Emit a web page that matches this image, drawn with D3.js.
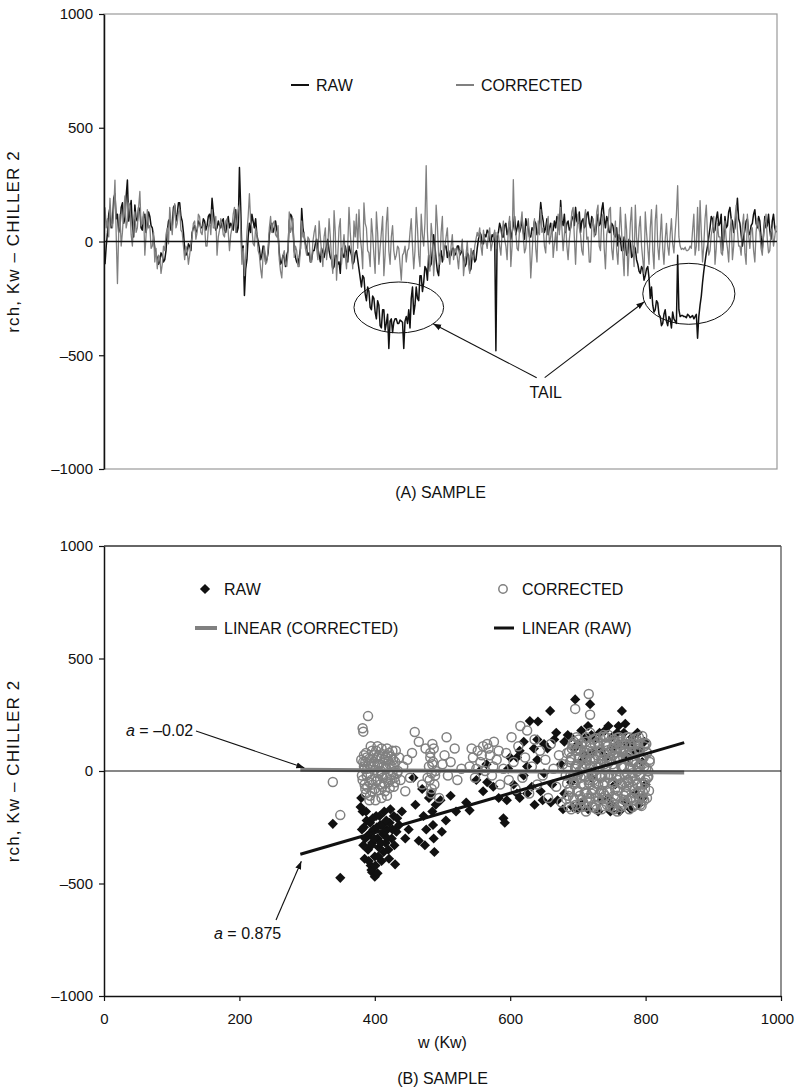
<!DOCTYPE html>
<html>
<head>
<meta charset="utf-8">
<script src="https://cdn.jsdelivr.net/npm/d3@7"></script>
<style>
  html, body { margin: 0; padding: 0; background: #fff; }
  svg text { font-family: "Liberation Sans", Arial, sans-serif; fill: #111; }
</style>
</head>
<body>
<svg id="chart" width="795" height="1089"></svg>
<script>
// ---- (A) residual per sample, kW ----
const rawSeries = [
  -100, -20, 40, 120, 150, 60, 80, 190, 210, 100, 120, 40, 60, 150, 170, 80, 100, 200, 270, 90,
  130, 180, 70, 20, 160, 100, 90, 150, 140, 60, 50, 110, 120, 40, 80, 130, 110, 70,
  60, 20, -30, -60, -70, -100, -90, -50, -60, -90, -80, -40,
  40, 90, 100, 50, 70, 150, 160, 90, 120, 170, 170, 110, 90, 40,
  -30, -60, -50, -10, -20, -40,
  40, 60, 70, 40, 50, 90, 80, 60, 60, 100, 90, 50, 70, 110, 120, 80, 190, 130,
  80, 50, 60, 90, 70, 60, 90, 100, 50, 40, 80, 110, 60, 80, 70, 50, 100, 140, 40, 60, 325, 150,
  -60, -20, -237, -120, -80, 20, 80, 40, 120, 90, 60, 100, 30, 0,
  -30, -80, -60, -20, -40, -90, -80, -50,
  30, 70, 80, 40, 60, 90, 50, 30,
  -50, -100, -90, -60, -70, -110, -60, -40,
  90, 120, 110, 60,
  -40, -70, -90, -100, -70, -30, 145, 60,
  20, -10, -30, -60, -50, -90, -80, -40, -40, -10, 10, -30, -60, -90, -30, -50, -70, -40, -20, 10,
  -40, -70, -80, -120, -110, -60, -60, -100, -90, -140, -30, -60, -70, -20, -50, -90, -20, -40, -60, -100, -90, -50, -40, -80,
  -120, -160, -200, -150, -160, -230, -260, -200, -220, -290, -300, -240,
  -250, -310, -340, -260, -280, -370, -380, -300, -300, -390, -360, -320, -470, -350, -340, -400,
  -355, -340, -340, -360, -360, -345, -350, -355, -470, -350, -330, -360,
  -300, -380, -250, -200, -320, -280, -200, -250, -260, -150, -150, -220, -180, -110, -120, -170,
  -60, -110, -100, -40, 30, -20, -80, -130, -150, -60, -40, -90, -60, -20, -20, -70,
  -40, -70, -60, -30, -30, -60, -50, -20, -20, -60, -50, -30,
  -70, -110, -100, -50, -60, -130, -120, -60, -40, -90, -80, -30,
  10, 40, 30, -10, -10, 30, 20, 50, 40, 0, 0, 30, 20, 40,
  -480, 20,
  40, 80, 60, 20, 20, 70, 80, 30, 50, 90, 10, 40, 70, 110, 30, 60, 90, 40, 60, 100,
  40, 10, 100, 70, 70, 20, 20, 60, 50, 90, 80, 30, 40, 90, 171, 120, 90, 40, 60, 100, 30, 60, 80, 40, 50, 90,
  60, 110, 100, 50, 180, 90, 70, 120, 40, 80, 90, 50,
  60, 100, 110, 70, 150, 90, 80, 130, 40, 90, 100, 60, 70, 120, 130, 80, 60, 110, 90, 50,
  30, 80, 120, 70, 80, 140, 170, 100, 60, 110, 90, 40, 40, 80, 70, 30, 20, 60,
  -20, 30, 10, -40, -40, 20, -10, -60, -50, 10, 0, -70, -60, -20, -30, -80,
  -100, -130, -140, -110, -120, -170, -150, -120, -110, -160,
  -250, -200, -280, -310, -300, -260, -270, -320,
  -330, -370, -360, -320, -300, -350, -370, -330, -340, -380, -310, -340, -350, -360,
  -60, -300,
  -330, -325, -325, -330, -330, -335, -320, -325, -335, -330, -325, -340, -330, -320,
  -425, -330,
  -280, -240, -180, -130, -90, -50, -20, 20,
  60, 110, 100, 40, 50, 100, 130, 70, 80, 120, -40, 10, 110, 60, 70, 130, 150, 100, 90, 40,
  60, 110, 190, 100, 80, 30, -20, 20, 50, 90, 100, 40, 30, 70, 80, 120, 140, 80, 60, 110,
  90, 20, -30, 30, 110, 60, 70, 120, 50, 10, 90, 120, 60, 40
];
const correctedSeries = [
  150, 60, 100, 20, 190, 80, 60, 140, 270, 30, -185, 40, 120, -20, 40, 130, 200, 60, 90, 170,
  160, 30, -20, 90, 130, 40, 60, 150, 220, 70, 80, 130, -60, 30, 140, 60, 70, -30,
  -20, 40, -90, -30, -120, -60, -70, -140, -100, -20, -40, 30,
  60, -10, 150, 90, 30, 120, 166, 60, 80, 130, 140, 50, 40, -20,
  -80, -20, -40, -100, -60, -10,
  20, 80, 90, 10, 40, 120, 110, 40, 30, 80, 70, -20, -20, 60, 90, 30, 140, 60,
  60, 110, -60, 20, 50, 100, 80, 30, 20, 90, 100, 40, -40, 30, 60, 120, 150, 40, 90, 140, 160, 60,
  -100, -30, -150, -70, 40, 110, 210, 90, 60, -10, -20, 60, 30, -40,
  -60, -120, -160, -60, -20, -100, -90, -30,
  60, 110, 40, 80, 90, 30, 20, 70,
  -80, -130, -160, -60, -40, -100, -110, -50,
  130, 40, 60, 100,
  -70, -20, -40, -110, -110, -30, 90, 20,
  40, -30, -60, 20, 10, -90, -90, 0, 40, 70, -30, -80, 90, 20, -50, -110, 20, 60, -80, -20,
  100, 20, -80, -140, 136, 40, -170, -60, 60, 100, -100, -30, 30, -60, -120, -20, 150, 40, -40, -120, 90, 20, 120, -30,
  140, 20, -30, -120, 170, 80, 60, -40, -50, -110, 100, 30,
  -60, -140, 130, 40, -100, -30, 40, 110, -150, -60, 80, 150, -40, -100, 20, 70,
  -40, -80, -60, -20, -30, -100, -170, -60, -50, -20, -90, -40,
  -30, 40, 100, -20, -120, -40, 150, 60, -60, -110, 120, 30, -20, 80, 333, 40,
  -60, -130, 80, 20, -150, -60, 160, 70, -60, -100, 40, 110, -80, -20, 20, 60,
  -60, -100, -20, 30, -80, -40, -30, -70, -120, -40, -40, 10,
  -150, -90, -60, 0, -100, -140, -30, -60, -80, -20, 10, 40,
  20, 60, -20, -60, 50, 10, 0, -30, 30, 60, -40, -10, 10, 50,
  -30, 40,
  30, -20, -60, 40, 90, 10, -20, -80, 60, 110, -110, -20, 272, 60, 40, -30, -40, 50, 80, 130,
  20, -50, -30, 40, 100, 10, -160, -60, 50, 100, -30, -90, 90, 30, 140, 40, 60, -20, -50, 70, 110, -10, 20, 80, -70, -10,
  40, -40, 120, 30, 150, 60, -40, 30, 90, -20, -80, 10,
  60, 130, 150, 20, -100, 40, 120, 60, 30, -40, -60, 100, 140, 10, 20, -90, -90, 60, 100, 20,
  40, 130, 160, -20, -40, 90, 120, -30, -120, 30, 60, 140, 150, -30, -80, 20, 90, -40,
  -100, 30, 150, 40, -60, -150, 120, 50, -150, -40, 80, 150, -20, -110, 160, 20,
  -50, 60, 110, -20, -80, -140, 130, 40, -30, -100,
  60, 140, -40, -120, 90, 160, -20, -80,
  20, 120, -30, -100, 10, 80, -20, -60, 30, 100, -10, -50, 40, 120,
  245, 20,
  -20, -35, -30, -35, -25, -40, -40, -35, -20, -30, 50, 120, -60, -20,
  150, -40,
  180, 40, -90, -20, 100, 160, 30, -60,
  -40, 30, 60, 110, -100, -30, 80, 20, 20, -50, -60, 40, 90, 10, -30, -90, 40, 100, -80, -20,
  100, 160, 50, -20, -20, -60, 70, 120, -50, -100, 120, 30, -30, 50, 60, -40, -90, 40, 100, 60,
  40, -30, -60, 30, 80, 120, 10, -50, -40, 40, 60, -20, 20, 70
];
// circled "tail" stretches: sample range and residual range
const tailRegions = [
  { from: 200, to: 272, low: -402, high: -178, arrowAngle: 40 },
  { from: 432, to: 506, low: -364, high: -96, arrowAngle: 165 }
];
const tailLabel = { sample: 354, value: -660, text: "TAIL" };

// ---- (B) residual versus chiller power ----
const rawPoints = [
  [338,-235],[349,-475],[380,-120],[382,-180],[384,-250],[386,-300],[388,-220],[390,-350],
  [392,-280],[394,-420],[395,-440],[396,-320],[398,-260],[400,-380],[400,-470],[402,-200],
  [404,-300],[406,-340],[408,-240],[410,-400],[412,-280],[414,-180],[416,-320],[418,-260],
  [420,-350],[422,-230],[425,-300],[428,-200],[430,-415],[432,-270],[436,-240],[440,-180],
  [379,-160],[381,-260],[383,-330],[385,-390],[387,-180],[389,-290],[391,-400],[393,-230],
  [395,-330],[397,-210],[399,-300],[401,-420],[403,-250],[405,-380],[407,-200],[409,-320],
  [411,-240],[413,-360],[415,-270],[417,-220],[419,-300],[421,-390],[423,-170],[426,-260],
  [429,-330],[433,-210],[396,-450],[404,-455],
  [445,-300],[450,-260],[457,-30],[460,-150],[465,-310],[470,-80],[472,-200],[474,-330],
  [476,-260],[480,-120],[483,-100],[485,-180],[486,-240],[487,-300],[488,-360],[490,-150],
  [497,-130],[499,-270],[505,-220],[512,-110],[520,-180],[535,-140],[540,-175],[550,-40],
  [555,0],[560,-90],[565,30],[566,-50],[575,-70],[583,-120],[590,-210],[592,-230],
  [595,-130],[597,10],[600,60],[605,-60],[610,-100],[614,90],[614,-120],[620,-20],
  [625,20],[629,222],[632,-70],[636,-150],[640,50],[641,220],[645,-90],[650,-10],
  [655,100],[659,267],[662,-60],[665,140],[670,-130],[675,30],[680,-100],[685,160],
  [690,-50],[696,318],[700,120],[705,-140],[710,70],[715,200],[718,297],[720,-30],
  [725,140],[730,-180],[735,90],[740,180],[745,-120],[750,150],[755,-60],[760,120],
  [762,-178],[765,267],[768,170],[770,-140],[775,60],[780,130],[785,-100],[790,-150],
  [792,90],[795,40],[800,-60],[705,180],[745,200],[690,150],[760,200],[680,130],
  [700,-170],[720,160],[735,-130],[750,-150],[780,150],[640,140],[660,-140],[625,-100],
  [650,120],[770,210],
  [695,100],[705,40],[712,150],[722,80],[732,170],[742,60],[752,100],[758,170],
  [772,120],[782,90],[788,170],[798,130],[692,-160],[715,-170],[748,-180],[778,-170],
  [795,-120],[610,60],[620,130],[635,100],[648,-130],[668,170],[678,-170]
];
const correctedPoints = [
  [338,-49],[349,-196],[382,190],[383,175],[390,244],[384,70],[386,40],[388,-20],
  [385,-60],[387,-100],[389,10],[392,55],[395,-40],[396,90],[398,20],[400,-80],
  [401,-130],[403,60],[405,-10],[407,30],[408,-60],[410,100],[412,-30],[414,50],
  [415,-90],[417,10],[419,70],[420,-50],[422,30],[424,-20],[426,90],[428,-70],
  [430,40],[433,-10],[436,60],[438,-40],[442,20],[445,-90],[448,50],[452,-30],[455,80],
  [381,-20],[383,40],[385,10],[387,80],[389,-70],[391,30],[393,-110],[394,110],
  [397,-60],[399,40],[402,90],[404,-40],[406,70],[409,0],[411,-70],[413,20],
  [416,60],[418,-110],[421,80],[423,-40],[425,20],[427,50],[429,-30],[431,90],[434,0],
  [380,50],[382,-40],[384,20],[386,-80],[388,60],[390,-10],[392,-50],[394,25],
  [396,-90],[398,70],[400,5],[402,-45],[404,30],[406,-85],[408,55],[410,-15],
  [412,75],[414,-55],[416,15],[418,-30],[420,45],[422,-75],[424,65],[426,-5],
  [428,25],[430,-50],[418,100],[404,110],[392,-130],[410,-120],
  [459,173],[465,130],[470,-60],[475,100],[478,-30],[480,20],[482,60],[483,-100],
  [484,-10],[485,120],[486,40],[488,-60],[490,0],[495,-120],[500,30],[503,70],
  [506,150],[508,-20],[512,40],[518,100],[522,-40],[528,10],
  [481,-40],[482,80],[484,-80],[485,30],[487,100],[489,-20],
  [540,20],[545,60],[548,-30],[552,90],[556,40],[560,110],[563,0],[566,120],
  [570,70],[573,-20],[576,130],[580,50],[585,-60],[590,10],[594,80],[598,-40],
  [543,100],[550,10],[558,70],[568,100],[575,20],[583,90],
  [602,150],[605,40],[608,-80],[612,110],[615,200],[618,-30],[622,60],[625,180],
  [628,-100],[632,20],[636,140],[640,-60],[644,90],[648,-20],[652,50],[656,-120],
  [660,120],[664,10],[668,-70],[672,70],[676,-140],[678,30],
  [682,-20],[684,80],[686,-110],[688,40],[690,-170],[692,120],[694,-60],[696,10],
  [698,150],[700,-90],[702,60],[704,-30],[706,110],[708,-140],[710,20],[712,-180],
  [714,90],[716,342],[716,-40],[718,50],[720,-100],[722,140],[724,0],[726,-150],
  [728,70],[730,-60],[732,110],[734,30],[736,-120],[738,80],[740,-20],[742,150],
  [744,-90],[746,40],[748,-160],[750,100],[752,-50],[754,10],[756,130],[758,-110],
  [760,60],[762,-30],[764,90],[766,-140],[768,20],[770,120],[772,-70],[774,50],
  [776,-170],[778,80],[780,-10],[782,140],[784,-100],[786,30],[788,-60],[790,100],
  [792,-20],[794,60],[796,-120],[798,20],[800,-40],[802,80],[804,0],[700,100],
  [705,-160],[712,30],[718,-60],[725,120],[732,-100],[738,160],[745,-30],[752,70],
  [758,-180],[765,140],[772,-10],[778,-120],[785,90],[792,-150],[798,110],[690,60],
  [695,-130],[735,-170],[755,-80],[775,150],[785,-40],[710,70],[720,-10],[730,20],
  [740,-110],[750,-140],[760,130],[770,-100],[780,40],[790,-90],[715,-140],[745,160],
  [765,-60],[790,150],[696,276],[795,156],[718,250],
  [688,-80],[691,100],[693,-20],[697,-150],[699,30],[701,140],[703,-110],[707,50],
  [709,-60],[711,130],[713,-100],[717,10],[719,110],[721,-160],[723,60],[727,-20],
  [729,130],[731,-130],[733,70],[737,-60],[739,30],[741,120],[743,-150],[747,80],
  [749,-20],[751,30],[753,-110],[757,100],[759,-40],[761,150],[763,-160],[767,60],
  [769,-50],[771,90],[773,-130],[777,10],[779,110],[781,-70],[783,40],[787,-150],
  [789,130],[791,20],[793,-110],[797,60],[799,-80],[801,120],[803,-30],[694,130],
  [704,90],[714,-120],[724,-80],[734,-30],[744,110],[754,-170],[764,20],[774,-40],
  [784,120],[794,-60],[703,0],[713,60],[723,-40],[733,150],[743,40],[753,140],
  [763,100],[773,70],[783,-130],[793,30],[708,-20],[728,-170],[748,50],[768,-110],
  [788,0],[698,-40],[718,170],[738,-100],[758,60],[778,-30],[798,-130],[806,40],
  [686,-160],[699,-165],[711,-158],[724,-162],[737,-155],[752,-165],[766,-150],[781,-160],[794,-155],
  [683,-125],[693,-120],[706,-128],[717,-122],[729,-118],[742,-126],[755,-120],[768,-128],
  [779,-118],[791,-125],[802,-120],
  [688,-92],[699,-88],[710,-95],[722,-86],[734,-90],[747,-94],[759,-88],[771,-92],
  [783,-86],[796,-94],[805,-88],
  [684,-55],[694,-50],[705,-58],[716,-52],[727,-56],[739,-50],[751,-58],[763,-54],
  [775,-50],[787,-58],[799,-52],
  [689,-20],[700,-16],[711,-24],[722,-18],[733,-22],[746,-14],[757,-24],[769,-18],
  [781,-22],[792,-16],[804,-24],
  [685,15],[696,20],[707,12],[719,18],[730,14],[742,22],[754,12],[765,18],
  [777,14],[789,20],[801,12],
  [690,50],[701,55],[713,46],[725,52],[736,48],[748,56],[760,46],[771,52],
  [783,48],[795,54],[806,50],
  [687,85],[698,90],[709,82],[721,88],[732,84],[744,92],[756,82],[767,88],
  [779,84],[791,90],[802,82],
  [694,120],[706,124],[718,116],[730,122],[741,118],[753,126],[765,116],[777,122],
  [789,118],[800,124],
  [712,150],[726,146],[739,152],[758,148],[772,150],[786,146]
];
// least-squares lines over the plotted power range
const trendRange = [290, 857];
const rawSlope = 0.875, rawIntercept = -624;
const correctedSlope = -0.02, correctedIntercept = 11;

const yTickValues = [-1000, -500, 0, 500, 1000];
const xTickValues = [0, 200, 400, 600, 800, 1000];
const yAxisTitle = "rch, Kw \u2013 CHILLER 2";
const xAxisTitle = "w (Kw)";

// ------------------------------------------------------------------
const BLACK = "#111", GREY = "#808080";
const fmt = d => d < 0 ? "\u2013" + Math.abs(d) : String(d);
const svg = d3.select("#chart");

const defs = svg.append("defs");
defs.append("marker")
  .attr("id", "arrow").attr("viewBox", "0 0 10 10")
  .attr("refX", 10).attr("refY", 5)
  .attr("markerWidth", 8).attr("markerHeight", 8)
  .attr("markerUnits", "userSpaceOnUse").attr("orient", "auto")
  .append("path").attr("d", "M0,1.2L10,5L0,8.8Z").attr("fill", BLACK);

function styleAxis(g) {
  g.selectAll(".domain").attr("stroke", BLACK).attr("stroke-width", 1.5);
  g.selectAll(".tick line").attr("stroke", BLACK).attr("stroke-width", 1.2);
  g.selectAll(".tick text").attr("font-size", 15).attr("fill", BLACK)
    .attr("font-family", '"Liberation Sans", Arial, sans-serif');
}

function yTitle(cy) {
  svg.append("text")
    .attr("transform", `translate(19,${cy}) rotate(-90)`)
    .attr("text-anchor", "middle").attr("font-size", 17)
    .attr("letter-spacing", 1.1)
    .text(yAxisTitle);
}

// ================= (A) =================
const A = { left: 104, right: 777, top: 14, bottom: 469 };
const xA = d3.scaleLinear().domain([0, rawSeries.length - 1]).range([A.left + 1, A.right - 1]);
const xA2 = d3.scaleLinear().domain([0, correctedSeries.length - 1]).range(xA.range());
const yA = d3.scaleLinear().domain([-1000, 1000]).range([A.bottom, A.top]);

svg.append("rect")
  .attr("x", A.left).attr("y", A.top)
  .attr("width", A.right - A.left).attr("height", A.bottom - A.top)
  .attr("fill", "none").attr("stroke", "#9a9a9a").attr("stroke-width", 1.2);

svg.append("path").datum(rawSeries)
  .attr("d", d3.line().x((d, i) => xA(i)).y(d => yA(d)))
  .attr("fill", "none").attr("stroke", BLACK).attr("stroke-width", 1.5)
  .attr("stroke-linejoin", "round");
svg.append("path").datum(correctedSeries)
  .attr("d", d3.line().x((d, i) => xA2(i)).y(d => yA(d)))
  .attr("fill", "none").attr("stroke", GREY).attr("stroke-width", 1.3)
  .attr("stroke-linejoin", "round");

svg.append("line")
  .attr("x1", A.left).attr("x2", A.right)
  .attr("y1", yA(0)).attr("y2", yA(0))
  .attr("stroke", BLACK).attr("stroke-width", 1.6);

svg.append("g").attr("transform", `translate(${A.left},0)`)
  .call(d3.axisLeft(yA).tickValues(yTickValues).tickFormat(fmt).tickSize(5).tickSizeOuter(0).tickPadding(6))
  .call(styleAxis);

yTitle((A.top + A.bottom) / 2);

// legend
[
  { label: "RAW", color: BLACK, x: 291 },
  { label: "CORRECTED", color: GREY, x: 456 }
].forEach(e => {
  svg.append("line").attr("x1", e.x).attr("x2", e.x + 18).attr("y1", 85).attr("y2", 85)
    .attr("stroke", e.color).attr("stroke-width", 2);
  svg.append("text").attr("x", e.x + 25).attr("y", 91).attr("font-size", 16).text(e.label);
});

// tail ellipses and arrows
const tx = xA(tailLabel.sample), ty = yA(tailLabel.value);
svg.append("text").attr("x", tx).attr("y", ty + 6)
  .attr("text-anchor", "middle").attr("font-size", 16).text(tailLabel.text);
tailRegions.forEach((r, k) => {
  const cx = (xA(r.from) + xA(r.to)) / 2, cy = (yA(r.low) + yA(r.high)) / 2;
  const rx = (xA(r.to) - xA(r.from)) / 2, ry = (yA(r.low) - yA(r.high)) / 2;
  svg.append("ellipse").attr("cx", cx).attr("cy", cy).attr("rx", rx).attr("ry", ry)
    .attr("fill", "none").attr("stroke", BLACK).attr("stroke-width", 1);
  const a = r.arrowAngle * Math.PI / 180;
  svg.append("line")
    .attr("x1", tx + (k === 0 ? -9 : -1)).attr("y1", ty - 14)
    .attr("x2", cx + rx * Math.cos(a)).attr("y2", cy + ry * Math.sin(a))
    .attr("stroke", BLACK).attr("stroke-width", 1.1)
    .attr("marker-end", "url(#arrow)");
});

svg.append("text").attr("x", (A.left + A.right) / 2).attr("y", 498)
  .attr("text-anchor", "middle").attr("font-size", 16).text("(A) SAMPLE");

// ================= (B) =================
const B = { left: 104, right: 781, top: 546, bottom: 996 };
const xB = d3.scaleLinear().domain([0, 1000]).range([B.left, B.right]);
const yB = d3.scaleLinear().domain([-1000, 1000]).range([B.bottom, B.top]);

svg.append("line").attr("x1", B.left).attr("x2", B.right).attr("y1", B.top).attr("y2", B.top)
  .attr("stroke", "#333").attr("stroke-width", 1.3);
svg.append("line").attr("x1", B.right).attr("x2", B.right).attr("y1", B.top).attr("y2", B.bottom)
  .attr("stroke", "#555").attr("stroke-width", 1.3);

const diamond = d3.symbol(d3.symbolSquare, 52)();
svg.append("g").selectAll("path").data(rawPoints).join("path")
  .attr("d", diamond)
  .attr("transform", d => `translate(${xB(d[0])},${yB(d[1])}) rotate(45)`)
  .attr("fill", BLACK);

svg.append("g").selectAll("circle").data(correctedPoints).join("circle")
  .attr("cx", d => xB(d[0])).attr("cy", d => yB(d[1])).attr("r", 4.5)
  .attr("fill", "none").attr("stroke", GREY).attr("stroke-width", 1.5);

const trend = (m, c) => trendRange.map(w => [xB(w), yB(m * w + c)]);
svg.append("path").attr("d", d3.line()(trend(correctedSlope, correctedIntercept)))
  .attr("stroke", GREY).attr("stroke-width", 4).attr("fill", "none");
svg.append("path").attr("d", d3.line()(trend(rawSlope, rawIntercept)))
  .attr("stroke", BLACK).attr("stroke-width", 3).attr("fill", "none");

svg.append("line").attr("x1", B.left).attr("x2", B.right).attr("y1", yB(0)).attr("y2", yB(0))
  .attr("stroke", BLACK).attr("stroke-width", 1.2);

svg.append("g").attr("transform", `translate(${B.left},0)`)
  .call(d3.axisLeft(yB).tickValues(yTickValues).tickFormat(fmt).tickSize(5).tickSizeOuter(0).tickPadding(6))
  .call(styleAxis);
const xAxisG = svg.append("g").attr("transform", `translate(0,${B.bottom})`)
  .call(d3.axisBottom(xB).tickValues(xTickValues).tickFormat(fmt).tickSize(5).tickSizeOuter(0).tickPadding(12))
  .call(styleAxis);
// keep the last tick label inside the page
xAxisG.selectAll(".tick text").filter(d => d === 1000).attr("dx", -4);

yTitle((B.top + B.bottom) / 2);
svg.append("text").attr("x", (B.left + B.right) / 2).attr("y", 1048)
  .attr("text-anchor", "middle").attr("font-size", 16).text(xAxisTitle);
svg.append("text").attr("x", (B.left + B.right) / 2).attr("y", 1084)
  .attr("text-anchor", "middle").attr("font-size", 16).text("(B) SAMPLE");

// legend
const lg = svg.append("g");
lg.append("path").attr("d", diamond).attr("transform", "translate(205,589) rotate(45)").attr("fill", BLACK);
lg.append("text").attr("x", 224).attr("y", 595).attr("font-size", 16).text("RAW");
lg.append("circle").attr("cx", 503).attr("cy", 589).attr("r", 4.2)
  .attr("fill", "none").attr("stroke", GREY).attr("stroke-width", 1.5);
lg.append("text").attr("x", 522).attr("y", 595).attr("font-size", 16).text("CORRECTED");
lg.append("line").attr("x1", 195).attr("x2", 217).attr("y1", 628).attr("y2", 628)
  .attr("stroke", GREY).attr("stroke-width", 4);
lg.append("text").attr("x", 224).attr("y", 634).attr("font-size", 16).text("LINEAR (CORRECTED)");
lg.append("line").attr("x1", 494).attr("x2", 514).attr("y1", 628).attr("y2", 628)
  .attr("stroke", BLACK).attr("stroke-width", 3);
lg.append("text").attr("x", 522).attr("y", 634).attr("font-size", 16).text("LINEAR (RAW)");

// slope annotations
function slopeNote(value, tx, ty) {
  const t = svg.append("text").attr("x", tx).attr("y", ty).attr("font-size", 16);
  t.append("tspan").attr("font-style", "italic").text("a");
  t.append("tspan").text(" = " + (value < 0 ? "\u2013" + Math.abs(value) : value));
  return t;
}
const corStart = trend(correctedSlope, correctedIntercept)[0];
const rawStart = trend(rawSlope, rawIntercept)[0];
slopeNote(correctedSlope, 126, 736);
svg.append("line").attr("x1", 196).attr("y1", 731)
  .attr("x2", corStart[0] + 4).attr("y2", corStart[1] - 2)
  .attr("stroke", BLACK).attr("stroke-width", 1.1).attr("marker-end", "url(#arrow)");
slopeNote(rawSlope, 214, 939);
svg.append("line").attr("x1", 276).attr("y1", 920)
  .attr("x2", rawStart[0] + 1).attr("y2", rawStart[1] + 7)
  .attr("stroke", BLACK).attr("stroke-width", 1.1).attr("marker-end", "url(#arrow)");
</script>
</body>
</html>
